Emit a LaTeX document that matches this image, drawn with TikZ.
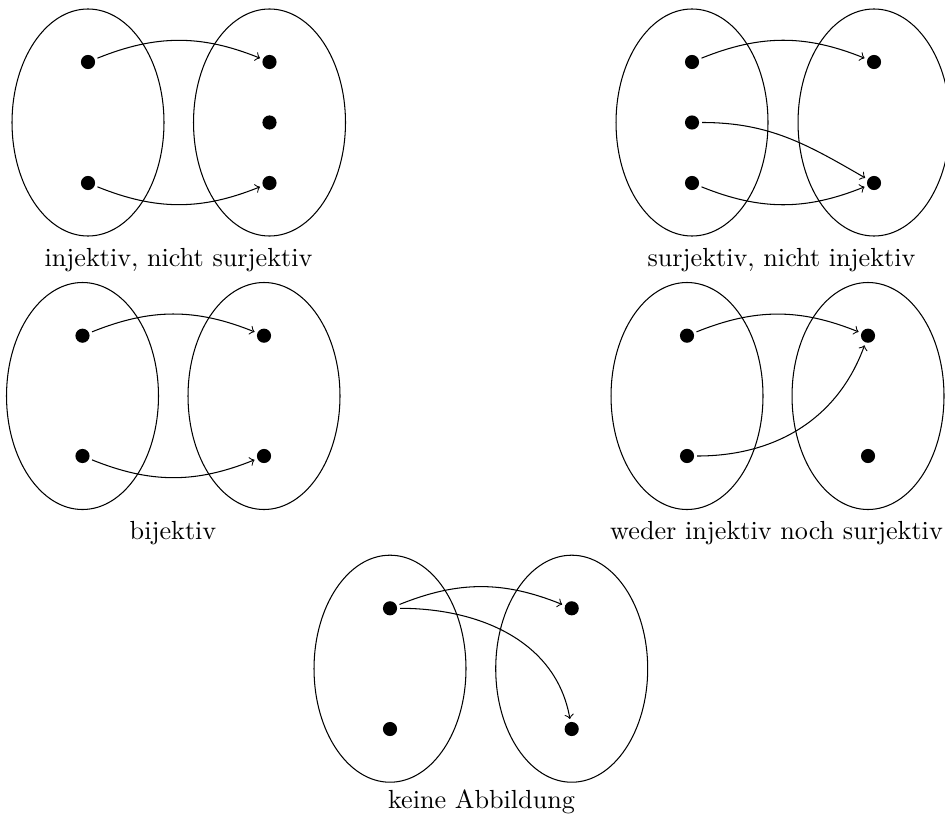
\documentclass[tikz,border=0pt]{standalone}
\begin{document}
\begin{tikzpicture}[x=0.382pt,y=-0.382pt,
  dot/.style={circle,fill=black,inner sep=0pt,minimum size=5.4pt,outer sep=1.2pt},
  arr/.style={->,line width=0.4pt},
  setline/.style={line width=0.4pt},
  lbl/.style={anchor=base,inner sep=0pt}]
\useasboundingbox (0,0) rectangle (945,817);
\clip (0,0) rectangle (945,817);
\def\rx{29.03pt}\def\ry{43.36pt}
% --- A: injektiv, nicht surjektiv
\draw[setline] (88,122.5) ellipse [x radius=\rx, y radius=\ry];
\draw[setline] (269.5,122.5) ellipse [x radius=\rx, y radius=\ry];
\node[dot] (a1) at (88,62) {};
\node[dot] (a2) at (88,183) {};
\node[dot] (b1) at (269.5,62) {};
\node[dot] (b2) at (269.5,122.5) {};
\node[dot] (b3) at (269.5,183) {};
\draw[arr] (a1) to[bend left=22] (b1);
\draw[arr] (a2) to[bend right=22] (b3);
\node[lbl] (la) at (178.5,266) {injektiv, nicht surjektiv};
% --- B: surjektiv, nicht injektiv
\draw[setline] (692,122.5) ellipse [x radius=\rx, y radius=\ry];
\draw[setline] (874,122.5) ellipse [x radius=\rx, y radius=\ry];
\node[dot] (c1) at (692,62) {};
\node[dot] (c2) at (692,122.5) {};
\node[dot] (c3) at (692,183) {};
\node[dot] (d1) at (874,62) {};
\node[dot] (d2) at (874,183) {};
\draw[arr] (c1) to[bend left=22] (d1);
\draw[arr] (c2) to[out=0,in=150] (d2);
\draw[arr] (c3) to[bend right=22] (d2);
\node[lbl] (lb) at (781.5,266) {surjektiv, nicht injektiv};
% --- C: bijektiv
\draw[setline] (82.5,396) ellipse [x radius=\rx, y radius=\ry];
\draw[setline] (264,396) ellipse [x radius=\rx, y radius=\ry];
\node[dot] (e1) at (82.5,335.7) {};
\node[dot] (e2) at (82.5,456) {};
\node[dot] (f1) at (264,335.7) {};
\node[dot] (f2) at (264,456) {};
\draw[arr] (e1) to[bend left=22] (f1);
\draw[arr] (e2) to[bend right=22] (f2);
\node[lbl] (lc) at (173,539.5) {bijektiv};
% --- D: weder injektiv noch surjektiv
\draw[setline] (687,396) ellipse [x radius=\rx, y radius=\ry];
\draw[setline] (868,396) ellipse [x radius=\rx, y radius=\ry];
\node[dot] (g1) at (687,335.7) {};
\node[dot] (g2) at (687,456) {};
\node[dot] (h1) at (868,335.7) {};
\node[dot] (h2) at (868,456) {};
\draw[arr] (g1) to[bend left=22] (h1);
\draw[arr] (g2) to[out=0,in=-110] (h1);
\node[lbl] (ld) at (776.5,539.5) {weder injektiv noch surjektiv};
% --- E: keine Abbildung
\draw[setline] (390,668.7) ellipse [x radius=\rx, y radius=\ry];
\draw[setline] (571.7,668.7) ellipse [x radius=\rx, y radius=\ry];
\node[dot] (i1) at (390,608.3) {};
\node[dot] (i2) at (390,729) {};
\node[dot] (j1) at (571.7,608.3) {};
\node[dot] (j2) at (571.7,729) {};
\draw[arr] (i1) to[bend left=22] (j1);
\draw[arr] (i1) to[out=0,in=100] (j2);
\node[lbl] (le) at (481.5,808) {keine Abbildung};
\end{tikzpicture}
\end{document}
